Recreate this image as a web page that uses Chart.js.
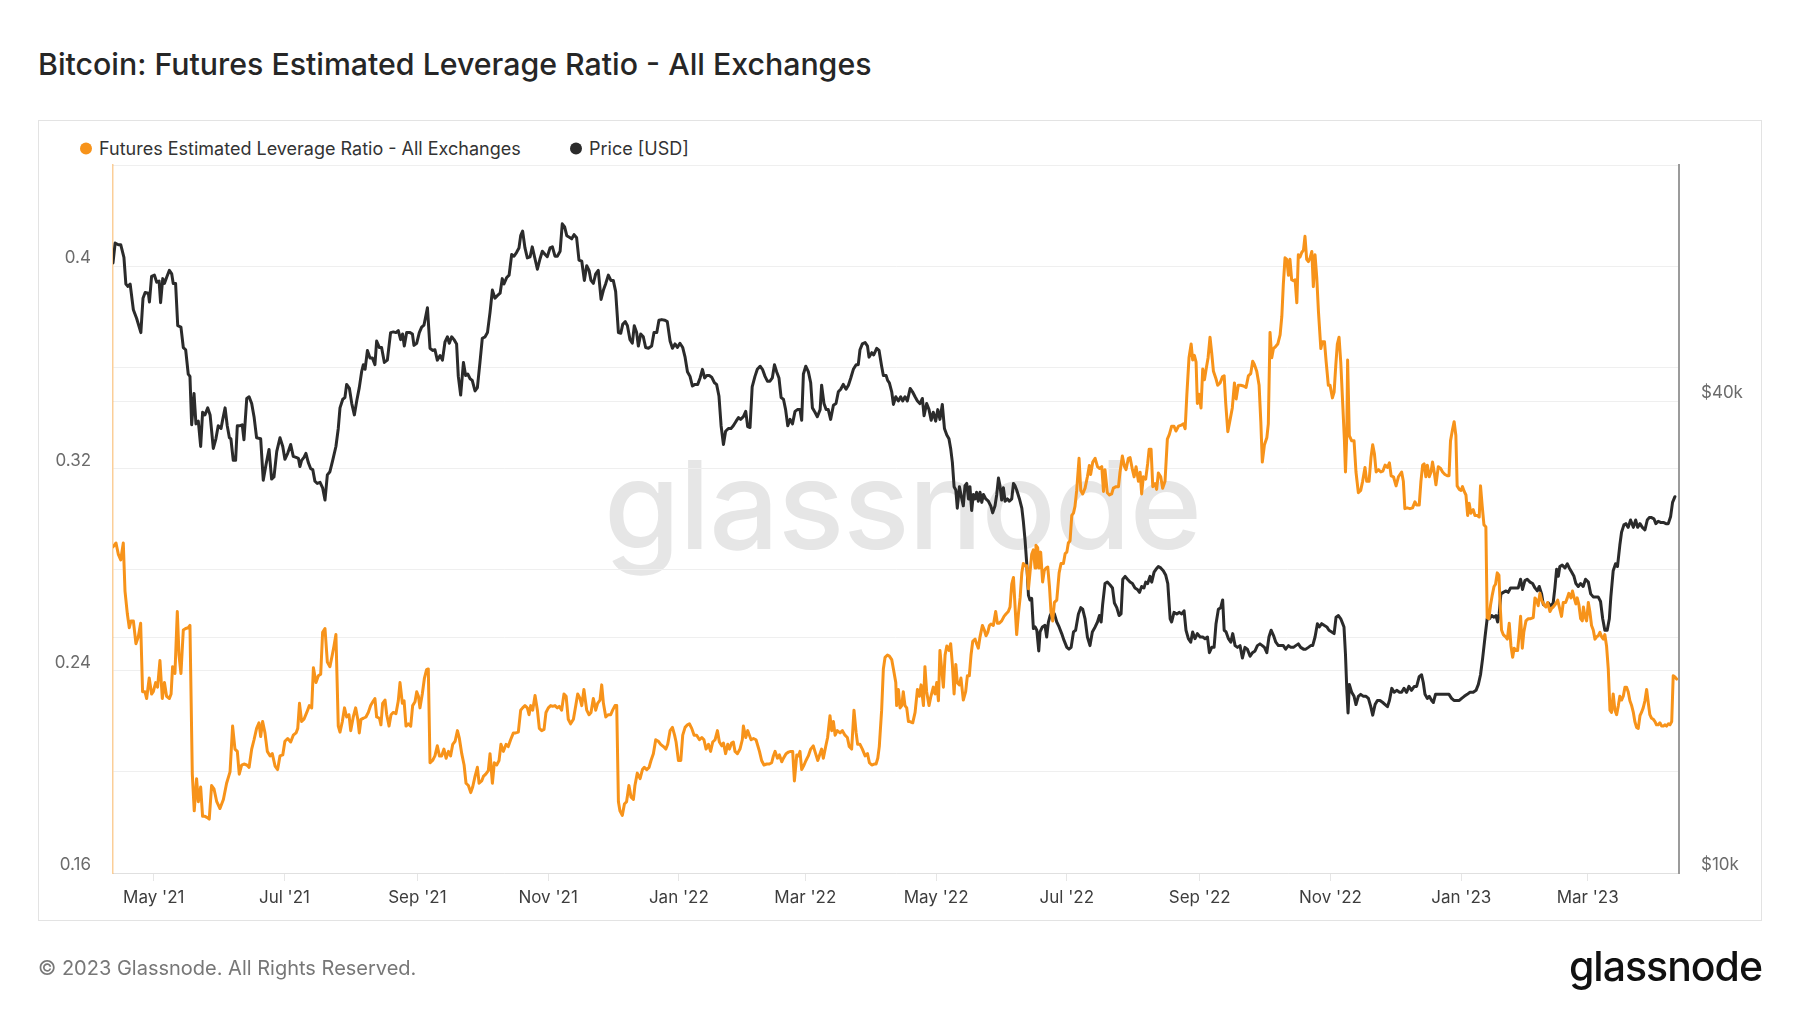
<!DOCTYPE html>
<html>
<head>
<meta charset="utf-8">
<script src="https://cdn.jsdelivr.net/npm/chart.js@4.4.0/dist/chart.umd.min.js"></script>
<style>
  body { margin: 0; width: 1800px; height: 1013px; background: #fff; position: relative; overflow: hidden; font-family: Inter, sans-serif; }
  #title { position: absolute; left: 38px; top: 64px; transform: translateY(-50%); font-size: 30.3px; font-weight: 450; color: #262626; white-space: nowrap; }
  #frame { position: absolute; left: 38px; top: 120px; width: 1724px; height: 801px; box-sizing: border-box; border: 1px solid #e3e3e3; }
  .legend { position: absolute; top: 148px; transform: translateY(-50%); font-size: 18px; color: #333; white-space: nowrap; display: flex; align-items: center; }
  .legend i { display: inline-block; width: 12px; height: 12px; border-radius: 50%; margin-right: 7px; }
  #watermark { position: absolute; left: 604px; top: 443px; font-size: 123px; line-height: 1; font-weight: 500; color: #e6e6e6; letter-spacing: -1px; }
  #chart { position: absolute; left: 0; top: 0; }
  #footer { position: absolute; left: 38px; top: 968px; transform: translateY(-50%); font-size: 20px; color: #777; white-space: nowrap; }
  #logo { position: absolute; right: 38px; top: 966px; transform: translateY(-50%); font-size: 41px; font-weight: 500; color: #111; letter-spacing: -1px; }
</style>
</head>
<body>
<div id="title">Bitcoin: Futures Estimated Leverage Ratio - All Exchanges</div>
<div id="frame"></div>
<div class="legend" style="left:80px"><i style="background:#f7931a"></i>Futures Estimated Leverage Ratio - All Exchanges</div>
<div class="legend" style="left:570px"><i style="background:#2b2b2b"></i>Price [USD]</div>
<div id="watermark">glassnode</div>
<canvas id="chart" width="1800" height="1013"></canvas>
<div id="footer">© 2023 Glassnode. All Rights Reserved.</div>
<div id="logo">glassnode</div>
<script>
// days counted from 12 Apr 2021
const tickDays = [19, 80, 142, 203, 264, 323, 384, 445, 507, 568, 629, 688]
const tickLabels = ["May '21", "Jul '21", "Sep '21", "Nov '21", "Jan '22", "Mar '22",
                    "May '22", "Jul '22", "Sep '22", "Nov '22", "Jan '23", "Mar '23"]

const priceTicks = [10000, 20000, 40000, 80000]
const priceTickLabels = ['$10k', '', '$40k', '']

const levDays = [
  0, 1.4, 2.5, 3.6, 4.8, 5.6, 6.7, 7.6, 8.4, 9.5,
  10.7, 11.8, 12.9, 13.8, 14.9, 15.7, 16.9, 18, 18.8, 19.9,
  20.8, 21.9, 23, 24, 25, 26.3, 27.1, 27.8, 28.9, 30,
  30.8, 31.7, 32.8, 33.9, 35.1, 35.9, 37, 37.9, 39, 39.8,
  40.9, 41.8, 42.9, 44, 44.9, 46, 47.1, 48.4, 49.9, 51.5,
  53, 54.6, 55.8, 56.9, 58, 58.9, 60, 61.1, 62.4, 63.5,
  64.7, 65.8, 67, 68.1, 68.9, 69.8, 70.9, 72, 73.3, 74.3,
  75.6, 76.8, 77.9, 79.2, 80.2, 81.5, 82.9, 84.1, 85.4, 86.2,
  87, 88, 89.1, 90.4, 91.6, 92.7, 93.5, 94.7, 95.8, 96.9,
  97.8, 98.9, 100, 101.2, 102.3, 103.1, 104, 105.1, 105.9, 107,
  108, 109, 110.1, 110.9, 112.1, 113.2, 114.2, 114.9, 115.7, 116.8,
  118, 119.1, 120.2, 121.5, 122.2, 123, 124.3, 125, 125.8, 126.9,
  127.7, 128.8, 129.7, 130.8, 132, 133.1, 133.9, 135, 135.8, 136.7,
  137.8, 138.9, 139.8, 140.9, 141.7, 142.5, 143.2, 144.3, 145.3, 146.3,
  147.1, 147.9, 149.1, 150.2, 151.3, 152.3, 153.3, 154.4, 155.4, 156.5,
  157.5, 158.5, 159.6, 160.7, 161.6, 162.7, 163.8, 164.7, 165.8, 166.9,
  167.8, 168.9, 170, 170.8, 172, 172.8, 173.9, 175.1, 175.9, 177,
  177.9, 179, 180.1, 181, 182.1, 183.4, 184.4, 185.5, 186.8, 187.9,
  189.1, 190.2, 191.1, 192.2, 193.3, 194.1, 194.9, 195.8, 196.9, 198,
  198.9, 200, 201.1, 202, 203.1, 204.2, 205.1, 206.2, 207.3, 208.2,
  209.3, 210.4, 211.4, 212.4, 213.5, 214.8, 215.9, 216.8, 217.9, 218.7,
  219.7, 221, 222.1, 223, 224.1, 225.2, 226.1, 227.2, 228, 228.8,
  229.9, 231.1, 232.2, 233.1, 234.2, 235, 235.8, 236.5, 237.6, 238.6,
  239.6, 240.7, 241.7, 242.8, 243.5, 244.6, 245.9, 247, 247.9, 249,
  250.1, 251, 252.1, 253.2, 254.4, 255.5, 256.8, 257.9, 258.8, 259.9,
  261, 262, 262.7, 263.8, 264.9, 265.8, 266.9, 268, 268.9, 270,
  271.1, 272.3, 273.6, 274.7, 275.7, 276.7, 277.8, 278.8, 279.8, 280.9,
  282, 282.9, 284, 284.8, 285.8, 286.8, 287.6, 288.6, 289.4, 290.2,
  291.3, 292.5, 293.6, 294.1, 295.2, 296.1, 296.9, 297.7, 298.8, 300,
  301.6, 302.6, 303.7, 305, 306.2, 307.3, 308.1, 308.9, 310, 310.9,
  312, 312.8, 314, 315.1, 316.2, 317.1, 317.9, 319, 319.8, 320.5,
  321.3, 322.4, 323.3, 324.4, 325.5, 326.7, 327.8, 328.8, 329.5, 330.6,
  331.4, 332.5, 333.4, 334.5, 335.3, 336.1, 336.9, 337.9, 339.2, 340.3,
  341.5, 342.6, 343.5, 344.6, 345.7, 346.7, 347.4, 348.5, 349.6, 350.9,
  352, 352.9, 354, 355.1, 356, 356.8, 357.5, 358.6, 359.4, 360.2,
  361.3, 362.2, 363.3, 364.1, 365.2, 365.6, 366.4, 367.2, 368, 368.7,
  369.5, 370.3, 371.1, 371.8, 373.1, 374.2, 375.3, 376.2, 377, 378.1,
  378.8, 379.6, 380.7, 381.6, 382.7, 383.5, 384.3, 385.1, 385.8, 386.6,
  387.4, 388.2, 389, 390, 390.8, 391.6, 392.4, 393.2, 393.9, 394.9,
  395.6, 396.7, 397.8, 398.6, 399.5, 400.3, 401.1, 402.2, 402.9, 403.7,
  404.5, 405.6, 406.5, 407.3, 408.1, 408.9, 409.6, 410.7, 411.8, 412.6,
  413.5, 414.6, 415.7, 416.6, 417.7, 418.5, 419.3, 420.1, 420.8, 421.6,
  422.4, 423.2, 424, 424.7, 425.5, 426.3, 427.1, 427.8, 428.6, 429.4,
  430.2, 430.6, 431.4, 432, 432.8, 433.7, 434.5, 435.3, 436.1, 436.9,
  437.6, 438.4, 439.2, 440.3, 441.4, 442.3, 443.4, 444.2, 445, 445.7,
  446.5, 447.3, 448.1, 448.8, 449.6, 450.7, 451.5, 452.4, 453.5, 454.6,
  455.5, 456.1, 457.1, 458.2, 459.3, 460.2, 461.3, 462.1, 462.8, 463.9,
  464.9, 465.9, 466.7, 468, 469.1, 469.8, 470.9, 471.9, 472.6, 473.7,
  474.5, 475.6, 476.4, 477.3, 478.4, 479.2, 479.9, 480.7, 481.8, 482.7,
  483.4, 484.3, 485.1, 486.2, 486.9, 487.7, 488.8, 489.7, 490.8, 491.9,
  492.8, 493.9, 495, 495.9, 497.1, 498.1, 499.4, 500.2, 501, 502,
  503, 503.7, 504.5, 505.3, 505.9, 506.7, 507.6, 508.4, 509.2, 510,
  510.9, 511.8, 512.6, 513.4, 514.5, 515.4, 516.5, 517.6, 518.4, 519.1,
  520.1, 521.2, 522.2, 523.2, 524, 525, 526.1, 527.4, 528.6, 529.7,
  530.8, 531.7, 532.5, 533.6, 534.7, 535.5, 536.2, 537.2, 538.3, 539,
  539.8, 540.6, 541.4, 542.5, 543.4, 544.5, 545.3, 546, 546.8, 547.6,
  548.4, 549.1, 549.9, 550.7, 551.5, 552.3, 553, 553.8, 554.6, 555.4,
  556.1, 556.9, 557.7, 558.5, 559.3, 560, 560.8, 561.6, 562.4, 563.5,
  564.2, 565.2, 566, 567, 567.8, 568.9, 569.7, 570.5, 571.2, 572,
  572.8, 573.7, 574.5, 575, 575.6, 576, 576.8, 577.9, 579, 579.9,
  581, 582.1, 583, 584.1, 584.9, 586, 586.9, 587.7, 588.5, 589.3,
  590.4, 591.5, 592.4, 593.5, 594.6, 595.5, 596.3, 597.4, 598.6, 599.7,
  601.2, 602, 602.7, 603.8, 605.1, 606.3, 607.4, 608.2, 609.4, 610.2,
  611, 611.7, 612.5, 613.2, 614.1, 614.9, 615.6, 616.4, 617.2, 618.3,
  619.4, 620.3, 621.4, 622.5, 623.3, 624, 625, 625.7, 626.5, 627.1,
  628.1, 628.9, 629.6, 630.4, 631.2, 632, 632.7, 633.5, 634.6, 635.4,
  636.5, 637.4, 638, 638.8, 639.6, 640.5, 641.1, 641.9, 642.7, 643.5,
  644.3, 645, 645.8, 646.6, 647.1, 647.8, 648.6, 649.7, 650.5, 651.4,
  652.2, 653, 653.7, 654.5, 655.3, 656.1, 656.7, 657.5, 658.2, 659.2,
  660.3, 661.4, 662.6, 663.4, 664.2, 664.9, 665.7, 666.5, 667.6, 668.5,
  669.3, 670.4, 671.2, 671.9, 673, 674, 675, 675.8, 676.6, 677.7,
  678.5, 679.2, 680.2, 680.9, 681.7, 682.5, 683.1, 683.9, 684.7, 685.5,
  686, 686.7, 687.5, 688.3, 689, 689.8, 690.6, 691.4, 692.2, 692.9,
  693.7, 694.5, 695.3, 696, 696.8, 697.6, 698.4, 699.1, 699.9, 700.7,
  701.5, 702.3, 703, 703.8, 704.6, 705.4, 706.1, 706.9, 707.7, 708.5,
  709.3, 710, 710.8, 711.6, 712.4, 713.1, 713.9, 714.7, 715.5, 716.3,
  717, 717.8, 718.6, 719.4, 720.1, 720.9, 721.7, 722.5, 723.3, 724,
  724.8, 725.6, 726.4, 727.2, 727.9, 728.7, 729.5
]

const levRatio = [
  0.289, 0.2905, 0.286, 0.2838, 0.2905, 0.2715, 0.2624, 0.257, 0.2597, 0.2597,
  0.2507, 0.2534, 0.2588, 0.2317, 0.2317, 0.229, 0.2371, 0.2308, 0.2317, 0.2353,
  0.2335, 0.244, 0.229, 0.2353, 0.2299, 0.229, 0.2308, 0.2416, 0.2389, 0.2634,
  0.2462, 0.2389, 0.2561, 0.2567, 0.257, 0.2579, 0.1991, 0.1846, 0.1973, 0.1882,
  0.194, 0.1824, 0.1824, 0.1819, 0.1813, 0.1946, 0.1933, 0.1882, 0.1855, 0.1891,
  0.1955, 0.2, 0.2181, 0.209, 0.2081, 0.1991, 0.2027, 0.2031, 0.2027, 0.2018,
  0.209, 0.2127, 0.2172, 0.2194, 0.214, 0.2199, 0.2154, 0.2081, 0.2063, 0.2072,
  0.2023, 0.2009, 0.2063, 0.2067, 0.2121, 0.2132, 0.2118, 0.2145, 0.2154, 0.2172,
  0.2271, 0.2199, 0.2208, 0.2235, 0.2262, 0.2253, 0.2412, 0.2353, 0.238, 0.2386,
  0.2552, 0.2567, 0.2434, 0.2416, 0.2462, 0.2498, 0.2543, 0.2181, 0.2157, 0.2199,
  0.2253, 0.2217, 0.2226, 0.2163, 0.2217, 0.2253, 0.2208, 0.2154, 0.2208, 0.2212,
  0.2217, 0.2235, 0.2262, 0.2281, 0.229, 0.2217, 0.2212, 0.2186, 0.2271, 0.2284,
  0.2226, 0.2181, 0.2226, 0.2235, 0.223, 0.2281, 0.2353, 0.2271, 0.2281, 0.2181,
  0.219, 0.2181, 0.2262, 0.2277, 0.2317, 0.2299, 0.2253, 0.2308, 0.2371, 0.2404,
  0.2407, 0.2036, 0.2045, 0.2063, 0.2103, 0.2063, 0.2063, 0.209, 0.2054, 0.2081,
  0.2063, 0.2109, 0.2121, 0.2163, 0.2132, 0.2072, 0.2027, 0.1955, 0.1946, 0.1918,
  0.194, 0.1982, 0.2018, 0.1955, 0.1964, 0.1982, 0.1991, 0.2005, 0.2072, 0.1955,
  0.2036, 0.2027, 0.2045, 0.2109, 0.2081, 0.2109, 0.21, 0.2127, 0.2154, 0.2154,
  0.2157, 0.2244, 0.2253, 0.2262, 0.2253, 0.2226, 0.2262, 0.2244, 0.2302, 0.2244,
  0.2172, 0.2163, 0.2168, 0.2235, 0.2253, 0.2262, 0.2259, 0.2262, 0.2253, 0.2259,
  0.2244, 0.2308, 0.2299, 0.2208, 0.219, 0.2208, 0.2262, 0.2308, 0.229, 0.2262,
  0.2326, 0.2244, 0.2226, 0.2235, 0.229, 0.2244, 0.2271, 0.2284, 0.2344, 0.2271,
  0.2217, 0.2226, 0.2226, 0.2244, 0.2262, 0.2262, 0.1882, 0.1846, 0.1828, 0.1873,
  0.1882, 0.1946, 0.19, 0.1891, 0.1946, 0.1995, 0.1973, 0.2009, 0.2018, 0.2009,
  0.2018, 0.2045, 0.2072, 0.2127, 0.2121, 0.2109, 0.21, 0.209, 0.2109, 0.2163,
  0.2176, 0.2145, 0.2118, 0.2045, 0.2045, 0.2145, 0.2176, 0.2186, 0.219, 0.2172,
  0.2145, 0.2145, 0.2127, 0.2136, 0.2127, 0.209, 0.2109, 0.2081, 0.2118, 0.2127,
  0.2163, 0.2118, 0.2103, 0.2114, 0.2072, 0.2109, 0.209, 0.2114, 0.2118, 0.2081,
  0.2072, 0.209, 0.2127, 0.2181, 0.2136, 0.2163, 0.2145, 0.2127, 0.2132, 0.2127,
  0.2081, 0.2045, 0.2027, 0.2031, 0.2031, 0.2036, 0.2063, 0.2081, 0.2054, 0.2067,
  0.204, 0.2054, 0.2072, 0.2078, 0.2081, 0.2081, 0.1964, 0.2067, 0.2063, 0.2081,
  0.2009, 0.2027, 0.2045, 0.2063, 0.209, 0.2103, 0.2072, 0.2045, 0.2063, 0.209,
  0.2054, 0.21, 0.2136, 0.2222, 0.2163, 0.2199, 0.2145, 0.2163, 0.2154, 0.2163,
  0.2145, 0.2136, 0.21, 0.209, 0.2244, 0.2154, 0.2109, 0.2109, 0.209, 0.2063,
  0.2072, 0.2036, 0.2027, 0.2031, 0.2031, 0.2054, 0.21, 0.2244, 0.2407, 0.2453,
  0.2462, 0.2458, 0.2444, 0.2407, 0.2353, 0.2262, 0.2326, 0.2253, 0.2262, 0.2317,
  0.2262, 0.2253, 0.2199, 0.2199, 0.2194, 0.2235, 0.2326, 0.2299, 0.2344, 0.2262,
  0.2416, 0.2317, 0.2262, 0.2299, 0.2335, 0.2308, 0.2353, 0.2281, 0.248, 0.2407,
  0.2335, 0.2462, 0.2498, 0.248, 0.2507, 0.2425, 0.2308, 0.2425, 0.2353, 0.2344,
  0.2371, 0.2284, 0.2317, 0.238, 0.238, 0.2462, 0.2516, 0.2525, 0.2507, 0.2489,
  0.2534, 0.2579, 0.2561, 0.2538, 0.2552, 0.2579, 0.2585, 0.2579, 0.2634, 0.2588,
  0.2588, 0.2597, 0.2615, 0.2624, 0.2634, 0.2652, 0.2742, 0.2769, 0.2661, 0.2543,
  0.2624, 0.2688, 0.2787, 0.2824, 0.2815, 0.2815, 0.2724, 0.2787, 0.286, 0.2878,
  0.2806, 0.2896, 0.2887, 0.2806, 0.2869, 0.2751, 0.2797, 0.2806, 0.281, 0.2733,
  0.2634, 0.2597, 0.267, 0.2679, 0.2787, 0.2824, 0.2824, 0.2863, 0.2869, 0.2905,
  0.2914, 0.3014, 0.3023, 0.305, 0.3113, 0.324, 0.3113, 0.3099, 0.3122, 0.3167,
  0.3212, 0.3176, 0.3225, 0.324, 0.3207, 0.32, 0.3207, 0.3109, 0.3195, 0.3104,
  0.3095, 0.3099, 0.3122, 0.3128, 0.3128, 0.3185, 0.3249, 0.3207, 0.3195, 0.324,
  0.3243, 0.3195, 0.3167, 0.3207, 0.3149, 0.3185, 0.3099, 0.3167, 0.3158, 0.3218,
  0.3276, 0.3276, 0.3128, 0.314, 0.3117, 0.3182, 0.3167, 0.3122, 0.3149, 0.3316,
  0.3334, 0.3367, 0.3367, 0.3348, 0.3367, 0.337, 0.3376, 0.3357, 0.3493, 0.3638,
  0.3692, 0.3629, 0.3647, 0.362, 0.3457, 0.3493, 0.3439, 0.3593, 0.3551, 0.3593,
  0.3638, 0.3719, 0.3656, 0.3584, 0.3557, 0.3529, 0.3538, 0.3562, 0.3566, 0.3461,
  0.3345, 0.3394, 0.3439, 0.3538, 0.3475, 0.3529, 0.3529, 0.3526, 0.352, 0.3566,
  0.3575, 0.3624, 0.3611, 0.3584, 0.3529, 0.3385, 0.3225, 0.3294, 0.3321, 0.3376,
  0.3738, 0.3638, 0.3674, 0.3683, 0.3692, 0.3728, 0.3801, 0.3928, 0.4033, 0.4027,
  0.3964, 0.4027, 0.3946, 0.3942, 0.3946, 0.3855, 0.4045, 0.4036, 0.4054, 0.4063,
  0.4118, 0.4027, 0.4018, 0.4033, 0.4058, 0.3919, 0.4045, 0.3955, 0.3819, 0.3674,
  0.3701, 0.3701, 0.362, 0.3529, 0.3529, 0.3479, 0.3502, 0.3611, 0.3692, 0.3719,
  0.362, 0.3457, 0.3312, 0.3186, 0.333, 0.3629, 0.333, 0.3309, 0.3309, 0.3186,
  0.3104, 0.3113, 0.3149, 0.3204, 0.3149, 0.3149, 0.3243, 0.3294, 0.3258, 0.3186,
  0.3195, 0.3186, 0.3189, 0.3213, 0.3204, 0.3222, 0.3171, 0.3167, 0.3131, 0.3167,
  0.3186, 0.3149, 0.3041, 0.3044, 0.3041, 0.3044, 0.3068, 0.3055, 0.3055, 0.3149,
  0.3213, 0.3218, 0.3167, 0.3213, 0.3167, 0.3186, 0.3225, 0.3186, 0.3135, 0.3207,
  0.32, 0.3186, 0.3176, 0.3171, 0.3171, 0.3309, 0.3357, 0.3385, 0.333, 0.3131,
  0.3117, 0.3113, 0.3128, 0.3109, 0.3095, 0.3014, 0.3062, 0.3023, 0.3037, 0.3014,
  0.3014, 0.3008, 0.3131, 0.305, 0.2977, 0.2968, 0.261, 0.2606, 0.2661, 0.27,
  0.2733, 0.2742, 0.2787, 0.2778, 0.267, 0.2561, 0.2543, 0.2534, 0.2525, 0.2588,
  0.2498, 0.2453, 0.2489, 0.248, 0.248, 0.2552, 0.2615, 0.2489, 0.2552, 0.2597,
  0.2606, 0.2606, 0.261, 0.2688, 0.2679, 0.2657, 0.2706, 0.2679, 0.2661, 0.2652,
  0.267, 0.2634, 0.2647, 0.2652, 0.2664, 0.2679, 0.2643, 0.2615, 0.267, 0.267,
  0.2688, 0.2706, 0.2688, 0.2715, 0.2688, 0.2664, 0.2688, 0.2661, 0.2606, 0.2597,
  0.2652, 0.2615, 0.2597, 0.267, 0.2634, 0.2579, 0.2561, 0.2525, 0.2534, 0.2538,
  0.2552, 0.2534, 0.2525, 0.2543, 0.2498, 0.2407, 0.2244, 0.2235, 0.2308, 0.2244,
  0.2226, 0.2262, 0.2299, 0.2284, 0.2299, 0.2335, 0.2335, 0.2317, 0.2281, 0.2262,
  0.2235, 0.2199, 0.2176, 0.2172, 0.2222, 0.2235, 0.2253, 0.2281, 0.2326, 0.2271,
  0.2226, 0.2212, 0.2208, 0.2199, 0.2186, 0.2186, 0.2194, 0.2181, 0.2181, 0.2186,
  0.2181, 0.219, 0.2186, 0.2199, 0.238, 0.2375, 0.2367
]

const priceDays = [
  0, 1, 2.5, 3.6, 5.1, 6, 7, 8, 9.5, 11,
  13, 14, 15, 16.5, 17, 18, 19.3, 20.4, 21.5, 22.2,
  23.2, 24, 25, 26.3, 27.4, 28.1, 29.2, 30.2, 31.7, 32.8,
  33.9, 35.1, 35.9, 36.7, 37.8, 38.7, 39.8, 40.9, 41.8, 42.9,
  44.2, 45.3, 46.8, 48, 49.1, 50.4, 51.2, 52.3, 53.3, 54.3,
  55, 56.1, 57.2, 58, 59.3, 60.3, 61.1, 62.4, 63.5, 64.7,
  65.8, 67, 68.9, 70.1, 71.4, 72.8, 74, 75.1, 76.4, 77.9,
  79.2, 80.2, 81.5, 82.9, 84.1, 85.4, 86.5, 87.2, 88, 89.1,
  90, 91.1, 92.2, 93.2, 94.2, 95.3, 96.6, 97.8, 98.9, 100,
  101.2, 102.5, 104, 105.1, 105.9, 107.2, 108.2, 109, 110.3, 111.4,
  112.6, 113.7, 114.9, 116, 116.8, 117.6, 118.7, 119.9, 121, 122.2,
  123, 124.3, 125.3, 126.6, 128, 129.5, 130.8, 132, 133.1, 134.2,
  135.1, 135.9, 137, 138.6, 139.7, 140.4, 141.7, 142.9, 144, 145.1,
  146.7, 147.9, 149.1, 150.2, 151.3, 152.6, 153.7, 154.9, 156, 156.9,
  158, 159.1, 160.3, 161.1, 162.2, 163.5, 164.5, 165.5, 166.6, 167.6,
  168.9, 170, 171.2, 172.3, 173.6, 174.7, 175.9, 177, 178.2, 179.3,
  180.6, 181.6, 182.4, 183.7, 184.8, 186, 187.1, 188.3, 189.4, 190.2,
  191.1, 192.2, 193.3, 194.6, 195.6, 196.9, 198, 199.2, 200.3, 201.6,
  202.6, 203.9, 205, 206.2, 207.3, 208.6, 209.6, 210.7, 211.7, 212.9,
  214, 215.1, 216.3, 217.4, 218.7, 219.9, 221, 222.1, 223, 224.1,
  225.2, 226.4, 227.7, 228.8, 229.9, 231.1, 232.3, 233.4, 234.5, 235.8,
  236.9, 237.8, 239, 240, 241.2, 242.3, 243.2, 244.3, 245.1, 246.2,
  247.4, 248.5, 249.8, 251.3, 252.4, 253.7, 254.7, 256, 257.5, 258.6,
  259.9, 261, 262.2, 263.3, 264.5, 265.8, 266.9, 268, 269.2, 270.3,
  271.5, 272.8, 273.9, 275, 276, 277, 278.2, 279.3, 280.6, 281.6,
  282.7, 283.7, 284.8, 285.8, 287.1, 288.3, 289.4, 290.7, 291.8, 292.8,
  294.1, 295.2, 296.1, 297.2, 298.2, 299.5, 300.6, 301.9, 303, 304.2,
  305.3, 306.5, 307.6, 308.6, 309.6, 310.7, 311.7, 312.8, 313.8, 314.8,
  315.9, 317, 318.2, 319.3, 320.5, 321.3, 322.1, 323.2, 324.4, 325.5,
  326.3, 327.5, 328.6, 329.9, 330.6, 331.7, 332.7, 333.7, 334.8, 336.1,
  337.3, 338.4, 339.5, 340.7, 342, 343.1, 344.2, 345.4, 346.7, 347.7,
  348.5, 349.6, 350.9, 352, 352.7, 354, 354.9, 356.3, 357.4, 358.6,
  359.4, 360.7, 361.4, 362.2, 363.3, 364.1, 365.2, 366.4, 367.5, 368.4,
  369.5, 370.6, 371.9, 373, 374.2, 375.3, 376.5, 377.6, 378.4, 379.6,
  380.7, 381.7, 382.7, 383.8, 384.8, 385.8, 386.9, 387.9, 389, 390,
  390.8, 391.6, 392.4, 393.2, 393.9, 394.9, 396, 396.7, 397.5, 398.3,
  399.1, 399.8, 400.6, 401.4, 402.2, 402.9, 403.7, 404.5, 405.3, 406.1,
  407.2, 408.4, 409.5, 410.4, 411.5, 412.3, 413.1, 413.8, 414.6, 415.4,
  416.2, 417.3, 418.2, 419.3, 420.1, 420.8, 421.6, 422.9, 424, 424.7,
  425.5, 426.3, 427.1, 427.8, 428.6, 429.4, 430.2, 431, 431.9, 432.5,
  433.6, 434.8, 435.6, 436.4, 437.2, 438.3, 439.2, 440.3, 441.4, 442.6,
  443.7, 445, 446, 447, 448.1, 449.1, 450.4, 451.5, 452.4, 453.5,
  454.6, 455.8, 456.9, 458.2, 459.3, 460.2, 461, 461.7, 462.8, 463.9,
  465.2, 466.3, 467.2, 468.3, 469.4, 470.3, 471.1, 472.2, 473.3, 474.5,
  475.6, 476.8, 477.9, 478.9, 479.9, 481, 481.8, 482.7, 483.8, 484.6,
  485.7, 486.6, 487.7, 488.8, 490, 491.1, 492.1, 493.2, 493.9, 495,
  496.3, 497.5, 498.6, 499.7, 500.6, 501.7, 502.8, 503.7, 504.8, 505.9,
  507.2, 508.4, 509.5, 510.6, 511.5, 512.6, 513.7, 514.6, 515.7, 516.8,
  517.7, 518.4, 519.3, 520.4, 521.5, 522.4, 523.5, 524.6, 525.8, 526.9,
  528.1, 529.2, 530.5, 531.6, 532.8, 533.9, 535.1, 536.2, 537.2, 538.3,
  539.3, 540.3, 541.4, 542.5, 543.7, 544.8, 546, 547.1, 548.4, 549.5,
  550.7, 551.8, 553, 554.1, 555.4, 556.5, 557.7, 558.8, 559.7, 560.8,
  561.9, 562.8, 563.9, 565, 566.3, 567.3, 568.6, 569.7, 570.6, 571.7,
  572.8, 573.7, 574.3, 575, 575.6, 576.2, 576.8, 577.9, 579, 579.9,
  581, 582.1, 583.4, 584.6, 585.7, 586.8, 587.7, 588.8, 589.9, 591.1,
  592.4, 593.5, 594.6, 595.5, 596.6, 597.7, 598.9, 600.2, 601.2, 602.3,
  603.5, 604.6, 605.8, 607.1, 608.2, 609.4, 610.5, 611.3, 612.1, 613.2,
  614.1, 615.2, 616, 617, 618.3, 619.5, 620.9, 622.2, 623.3, 624.5,
  625.6, 626.8, 628.1, 629.2, 630.4, 631.8, 633.1, 634.6, 635.9, 637,
  638, 639, 640.1, 641.1, 642.1, 643.2, 644.3, 645.2, 646, 646.7,
  647.5, 648.6, 649.9, 650.9, 652, 653.3, 654.5, 655.6, 656.7, 657.6,
  658.7, 659.8, 661.1, 662.3, 663.4, 664.5, 665.4, 666.5, 667.3, 668.4,
  669.6, 670.7, 671.9, 672.7, 673.5, 674.3, 675, 676.1, 677.4, 678.5,
  679.4, 680.5, 681.6, 682.5, 683.6, 684.7, 685.9, 687, 688.3, 689.4,
  690.6, 691.8, 692.9, 694, 695, 696, 697.1, 698.1, 698.8, 699.9,
  701, 701.9, 703, 703.8, 704.9, 705.8, 706.9, 708, 709.3, 710.4,
  711.3, 712.4, 713.5, 714.7, 715.8, 716.7, 717.8, 718.9, 719.8, 720.9,
  722, 723.3, 724.5, 725.6, 726.7, 727.6, 728.7
]

const priceUsd = [
  60000, 63600, 63300, 63300, 61000, 56400, 56000, 56400, 52300, 51000,
  48900, 54100, 55000, 54900, 53500, 57700, 57900, 56700, 56900, 53400,
  57300, 56500, 57500, 58700, 58100, 56500, 56500, 49900, 49700, 46800,
  46500, 43300, 43000, 37300, 40900, 37400, 37700, 35000, 38700, 38400,
  39200, 38400, 34800, 35800, 37200, 36900, 37900, 39200, 37200, 35900,
  35800, 33600, 33600, 37200, 37200, 37300, 35700, 40300, 40500, 39700,
  38200, 35900, 35800, 31700, 33200, 34700, 31800, 32000, 34500, 35900,
  35000, 33700, 34300, 35200, 34000, 33900, 33800, 33000, 33600, 33900,
  34300, 33400, 32800, 32700, 31600, 31400, 31500, 31000, 29900, 32200,
  32500, 33600, 35000, 36900, 39200, 40200, 40400, 42000, 41500, 39700,
  38400, 40000, 41600, 43600, 44500, 43900, 46400, 45400, 45400, 44500,
  47700, 46800, 46800, 44800, 45100, 48900, 49000, 48900, 49200, 47900,
  48700, 47000, 48900, 48900, 48700, 47100, 47400, 48900, 49700, 50000,
  52600, 46700, 46400, 46500, 45100, 45700, 45100, 47600, 48300, 47400,
  48300, 47900, 47300, 43000, 40700, 44800, 43100, 43300, 42700, 42500,
  41200, 41600, 44800, 48100, 48300, 48900, 51900, 55400, 54100, 54500,
  54900, 57300, 56400, 57500, 57900, 61500, 61200, 61900, 62700, 65000,
  65900, 62700, 60900, 61100, 62900, 60700, 58900, 60700, 62100, 61500,
  61100, 62700, 62900, 61200, 61200, 62100, 67300, 66700, 65000, 64700,
  64400, 65200, 64600, 60500, 60300, 57000, 59500, 58700, 57000, 56500,
  58100, 58700, 53900, 55400, 56500, 57900, 57000, 57000, 55200, 48900,
  48800, 50100, 50500, 49900, 47900, 47400, 49900, 48900, 47000, 48700,
  48300, 46800, 46700, 47000, 48900, 48900, 50700, 50800, 50700, 50500,
  47700, 46700, 47300, 46800, 47400, 46800, 45500, 43600, 43000, 41800,
  42000, 42000, 42800, 43900, 42800, 43100, 43100, 42900, 42200, 42000,
  40600, 37200, 35200, 36600, 36900, 36900, 37200, 37700, 38100, 37900,
  38200, 38800, 37100, 37000, 41700, 43000, 43900, 44300, 43900, 43000,
  42400, 42400, 42800, 44500, 43600, 42800, 40400, 40200, 39000, 37200,
  37900, 37400, 38800, 39000, 39000, 37800, 43300, 44300, 43600, 42200,
  39200, 38700, 38200, 39000, 41900, 39700, 39000, 39000, 37900, 39500,
  39700, 41100, 41400, 42000, 41400, 41900, 42800, 43900, 44500, 44500,
  46500, 47300, 47500, 47000, 45500, 46100, 45800, 46700, 46400, 44300,
  43100, 43100, 42500, 42200, 41100, 39600, 40500, 40000, 40500, 40000,
  40500, 40000, 41500, 41100, 40500, 40000, 39700, 40300, 38300, 39700,
  39000, 37800, 38700, 37700, 39000, 37900, 39600, 36900, 36200, 35800,
  34800, 33400, 31100, 30800, 29200, 31100, 30000, 29400, 31200, 31400,
  30000, 31100, 29000, 30400, 30000, 30600, 29800, 30600, 29700, 30400,
  30000, 29800, 29400, 28800, 29400, 30400, 31900, 31200, 29900, 31000,
  29800, 30000, 29800, 30000, 31400, 31200, 30800, 30000, 29200, 28100,
  26600, 24800, 22600, 22300, 22400, 20500, 20600, 20400, 19200, 20300,
  20600, 20700, 20000, 20900, 21300, 21600, 21400, 20900, 20600, 20200,
  19800, 19400, 19300, 19400, 20300, 20400, 21400, 21800, 21700, 21100,
  20000, 19500, 20300, 20600, 20900, 21300, 20900, 22000, 23400, 23500,
  23300, 23100, 22100, 21800, 21300, 21400, 23700, 23900, 23700, 23500,
  23400, 23100, 23000, 22800, 23200, 23100, 23500, 23400, 23900, 23500,
  24200, 24400, 24600, 24500, 24300, 24000, 23400, 21100, 20900, 21500,
  21400, 21500, 21400, 21600, 20400, 19900, 19700, 20300, 19900, 20200,
  20000, 20000, 19900, 20000, 19100, 19400, 19400, 20800, 21700, 21800,
  22300, 20400, 20300, 19900, 19700, 20200, 19500, 19400, 19500, 18800,
  19400, 19300, 18900, 19100, 19200, 19500, 19600, 19500, 19400, 19100,
  20000, 20400, 20100, 19700, 19500, 19500, 19500, 19300, 19500, 19400,
  19400, 19500, 19600, 19400, 19300, 19300, 19400, 19500, 19500, 20000,
  20800, 20600, 20800, 20700, 20600, 20400, 20300, 20200, 21200, 21300,
  21100, 20800, 20600, 19000, 17200, 16000, 17400, 17000, 16800, 16400,
  16800, 16900, 16800, 16800, 16700, 16300, 15900, 16400, 16600, 16600,
  16500, 16400, 16300, 16600, 17200, 17000, 17100, 17000, 17000, 17200,
  17000, 17300, 17100, 17300, 17300, 17800, 17900, 17500, 16900, 16700,
  16800, 16600, 16500, 16900, 16900, 16900, 16900, 16900, 16900, 16700,
  16600, 16600, 16600, 16700, 16800, 16900, 17000, 17000, 17100, 17400,
  17900, 18800, 20000, 21100, 21100, 21300, 21200, 21300, 20900, 21400,
  22700, 22800, 22900, 22800, 23100, 23100, 23100, 23100, 23700, 23000,
  23600, 23700, 23500, 23400, 23100, 22900, 23200, 22700, 22000, 21900,
  22100, 21900, 22100, 23100, 24400, 23900, 24600, 24700, 24500, 24800,
  24500, 24200, 23900, 23400, 23200, 23400, 23200, 23700, 23500, 22700,
  22500, 22500, 22500, 22200, 21100, 20400, 20400, 21100, 22500, 24300,
  24800, 24600, 26200, 27200, 27800, 27900, 27600, 28200, 27600, 28200,
  27600, 27900, 27600, 27400, 28200, 28400, 28400, 28300, 27900, 28100,
  28000, 28000, 27900, 27900, 28500, 29700, 30200
]

Chart.defaults.font.family = 'Inter, sans-serif'
Chart.defaults.color = '#6b6b6b'

const ORANGE = '#f7931a'
const DARK = '#2b2b2b'

new Chart(document.getElementById('chart'), {
    type: 'line',
    data: {
        datasets: [
            {
                label: 'Futures Estimated Leverage Ratio - All Exchanges',
                data: levDays.map((d, i) => ({ x: d, y: levRatio[i] })),
                borderColor: ORANGE,
                borderWidth: 3,
                yAxisID: 'y',
            },
            {
                label: 'Price [USD]',
                data: priceDays.map((d, i) => ({ x: d, y: priceUsd[i] })),
                borderColor: DARK,
                borderWidth: 3,
                yAxisID: 'y1',
            },
        ]
    },
    options: {
        responsive: false,
        animation: false,
        layout: { padding: { top: 165, bottom: 100, left: 0, right: 0 } },
        elements: {
            point: { radius: 0 },
            line: { tension: 0, borderJoinStyle: 'round', borderCapStyle: 'round' },
        },
        plugins: { legend: { display: false }, tooltip: { enabled: false } },
        scales: {
            x: {
                type: 'linear',
                min: 0,
                max: 730.6,
                afterBuildTicks: s => { s.ticks = tickDays.map(v => ({ value: v })) },
                afterFit: s => { s.height = 40 },
                grid: { drawOnChartArea: false, drawTicks: true, tickLength: 8, color: '#e6e6e6' },
                border: { color: '#e0e0e0', width: 1 },
                ticks: {
                    autoSkip: false, maxRotation: 0, padding: 7,
                    color: '#3d3d3d', font: { size: 17 },
                    callback: (v, i) => tickLabels[i],
                },
            },
            y: {
                position: 'left',
                min: 0.16,
                max: 0.44,
                afterFit: s => { s.width = 113 },
                grid: { color: '#efefef', drawTicks: false },
                border: { color: 'rgba(247,147,26,0.45)', width: 1.5 },
                ticks: {
                    stepSize: 0.04, padding: 22, labelOffset: -8, font: { size: 17 },
                    callback: v => Math.round(v * 100) % 8 === 0 ? String(+v.toFixed(2)) : '',
                },
            },
            y1: {
                type: 'logarithmic',
                position: 'right',
                min: 10000,
                max: 80000,
                afterBuildTicks: s => { s.ticks = priceTicks.map(v => ({ value: v })) },
                afterFit: s => { s.width = 121 },
                grid: { color: '#efefef', drawTicks: false },
                border: { color: '#9b9b9b', width: 2 },
                ticks: {
                    padding: 22, labelOffset: -8, font: { size: 17 },
                    callback: (v, i) => priceTickLabels[i],
                },
            },
        }
    }
})
</script>
</body>
</html>
